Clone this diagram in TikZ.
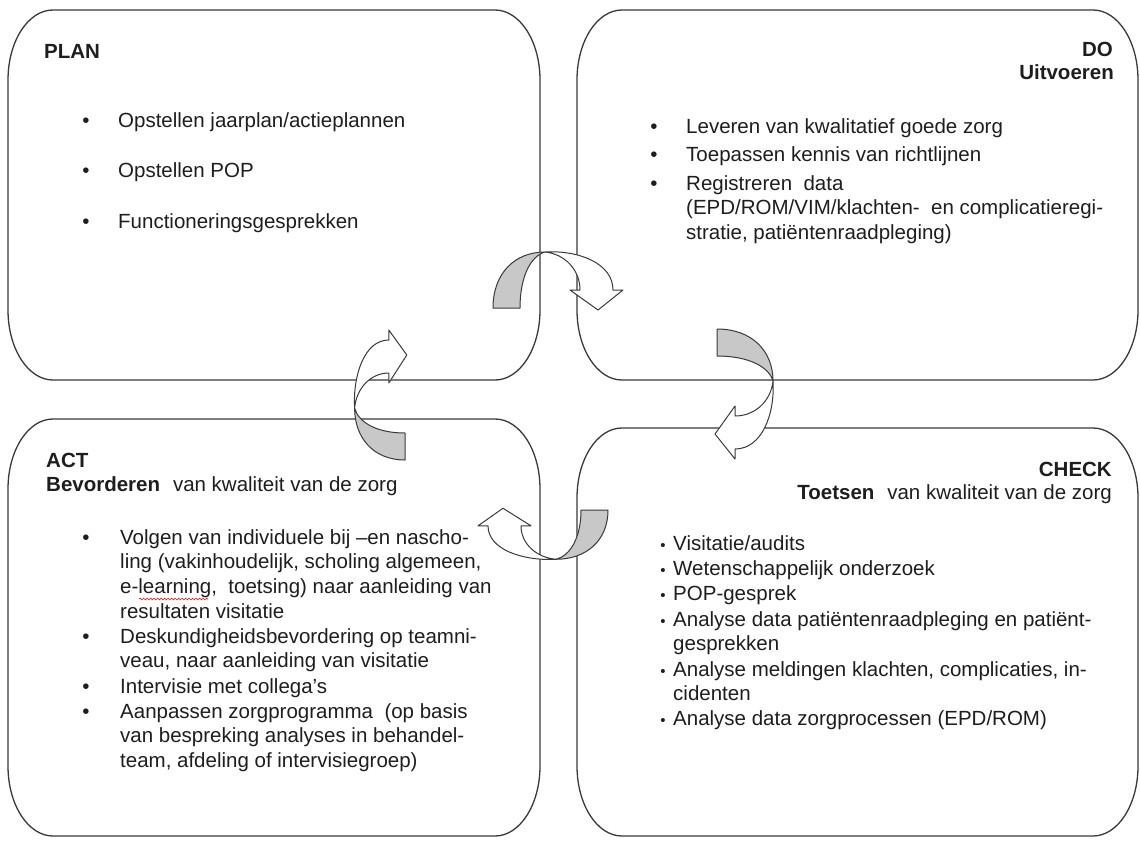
\documentclass[tikz,border=0pt]{standalone}
\usepackage{fontspec}
\setmainfont{Liberation Sans}
\usetikzlibrary{decorations.pathmorphing}
\definecolor{linecol}{HTML}{3A3A3A}
\definecolor{textcol}{HTML}{1E1E1E}
\definecolor{backgray}{HTML}{C8C8C8}
\newcommand\bodyfont{\fontsize{20.5}{24.7}\selectfont}
% box outline with elliptical corners (rx=45, ry=70), screen coordinates
\newcommand\eboxpath[4]{(#1,#2+70) .. controls (#1,#2+31.3) and (#1+20.1,#2) .. (#1+45,#2) -- (#3-45,#2) .. controls (#3-20.1,#2) and (#3,#2+31.3) .. (#3,#2+70) -- (#3,#4-70) .. controls (#3,#4-31.3) and (#3-20.1,#4) .. (#3-45,#4) -- (#1+45,#4) .. controls (#1+20.1,#4) and (#1,#4-31.3) .. (#1,#4-70) -- cycle}
% curved arrow: gray back part + white front part with head
\newcommand\curvedarrowshape{%
  \filldraw[backfill] (-60,0) -- (-33,0) .. controls (-33,-32) and (-22,-52) .. (-8,-56) .. controls (-38,-56) and (-60,-35) .. (-60,0) -- cycle;
  \filldraw[frontfill] (-8,-56) .. controls (25,-58) and (60,-45) .. (60,-18) -- (70,-18) -- (45,2) -- (17,-18) -- (27,-18) .. controls (27,-38) and (12,-54) .. (-8,-56) -- cycle;
}
\begin{document}
\begin{tikzpicture}[x=1pt,y=-1pt,
  boxline/.style={draw=linecol, line width=1.3pt},
  backfill/.style={draw=linecol, line width=1pt, fill=backgray, line join=round},
  frontfill/.style={draw=linecol, line width=1pt, fill=white, line join=round},
  txt/.style={anchor=base west, inner sep=0pt, align=left, font=\bodyfont, text=textcol},
  ttl/.style={inner sep=0pt, font=\bodyfont\bfseries, text=textcol},
  bul/.style={anchor=base, inner sep=0pt, font=\bodyfont, text=textcol},
  sbul/.style={anchor=base, inner sep=0pt, font=\fontsize{15}{15}\selectfont, text=textcol}]
\useasboundingbox (0,0) rectangle (1140,841);
\fill[white] (0,0) rectangle (1140,841);

% ---------- boxes ----------
\draw[boxline] \eboxpath{8}{10}{540}{380};
\draw[boxline] \eboxpath{577}{10}{1138}{380};
\draw[boxline] \eboxpath{8}{419}{540}{836};
\draw[boxline] \eboxpath{577}{428}{1138}{836};
\coordinate (plan) at (274,195);
\coordinate (do) at (857,195);
\coordinate (act) at (274,627);
\coordinate (check) at (857,632);

% ---------- PLAN ----------
\node[ttl, anchor=base west] (plantitle) at (44,58) {PLAN};
\node[bul] (pb1) at (86,127) {•};
\node[txt] (pt1) at (118,127) {Opstellen jaarplan/actieplannen};
\node[bul] (pb2) at (86,177) {•};
\node[txt] (pt2) at (118,177) {Opstellen POP};
\node[bul] (pb3) at (86,228) {•};
\node[txt] (pt3) at (118,228) {Functioneringsgesprekken};

% ---------- DO ----------
\node[ttl, anchor=base east] (dotitle) at (1113,56) {DO};
\node[ttl, anchor=base east] (dosub) at (1114,79) {Uitvoeren};
\node[bul] (db1) at (654,133) {•};
\node[txt] (dt1) at (686,133) {Leveren van kwalitatief goede zorg};
\node[bul] (db2) at (654,161) {•};
\node[txt] (dt2) at (686,161) {Toepassen kennis van richtlijnen};
\node[bul] (db3) at (654,190) {•};
% multi-line nodes: base anchor is the baseline of the last line
\node[txt] (dt3) at (686,239.4) {Registreren\ \ data\\(EPD/ROM/VIM/klachten-\ \ en complicatieregi-\\stratie, patiëntenraadpleging)};

% ---------- ACT ----------
\node[ttl, anchor=base west] (acttitle) at (46,467) {ACT};
\node[txt] (actsub) at (46,491) {\textbf{Bevorderen}\hspace{0.35em} van kwaliteit van de zorg};
\node[bul] (ab1) at (86,544) {•};
\node[txt] (at1) at (120,618.1) {Volgen van individuele bij –en nascho-\\ling (vakinhoudelijk, scholing algemeen,\\e-learning, \ toetsing) naar aanleiding van\\resultaten visitatie};
\node[bul] (ab2) at (86,643) {•};
\node[txt] (at2) at (120,667.7) {Deskundigheidsbevordering op teamni-\\veau, naar aanleiding van visitatie};
\node[bul] (ab3) at (86,693) {•};
\node[txt] (at3) at (120,693) {Intervisie met collega’s};
\node[bul] (ab4) at (86,718) {•};
\node[txt] (at4) at (120,767.4) {Aanpassen zorgprogramma \ (op basis\\van bespreking analyses in behandel-\\team, afdeling of intervisiegroep)};
\draw[red, line width=0.6pt, decorate, decoration={snake, amplitude=0.9pt, segment length=3.5pt}] (139,599) -- (208,599);

% ---------- CHECK ----------
\node[ttl, anchor=base east] (checktitle) at (1112,476) {CHECK};
\node[txt, anchor=base east] (checksub) at (1112,499) {\textbf{Toetsen}\hspace{0.35em} van kwaliteit van de zorg};
\node[sbul] (cb1) at (663,550) {•};
\node[txt] (ct1) at (673,550) {Visitatie/audits};
\node[sbul] (cb2) at (663,575) {•};
\node[txt] (ct2) at (673,575) {Wetenschappelijk onderzoek};
\node[sbul] (cb3) at (663,600) {•};
\node[txt] (ct3) at (673,600) {POP-gesprek};
\node[sbul] (cb4) at (663,626) {•};
\node[txt] (ct4) at (673,650.7) {Analyse data patiëntenraadpleging en patiënt-\\gesprekken};
\node[sbul] (cb5) at (663,676) {•};
\node[txt] (ct5) at (673,700.7) {Analyse meldingen klachten, complicaties, in-\\cidenten};
\node[sbul] (cb6) at (663,725) {•};
\node[txt] (ct6) at (673,725) {Analyse data zorgprocessen (EPD/ROM)};

% ---------- curved arrows ----------
\begin{scope}[shift={(553,308)}] \curvedarrowshape \end{scope}
\begin{scope}[shift={(717,389)}, rotate=-90] \curvedarrowshape \end{scope}
\begin{scope}[shift={(548,510)}, rotate=180, yscale=0.88] \curvedarrowshape \end{scope}
\begin{scope}[shift={(405,400)}, rotate=90, yscale=0.9] \curvedarrowshape \end{scope}
\end{tikzpicture}
\end{document}
